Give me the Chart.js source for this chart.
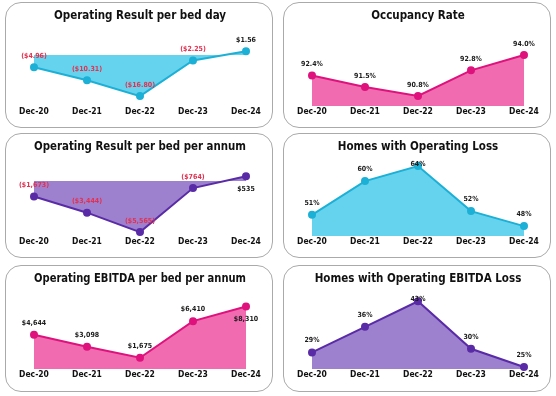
<!DOCTYPE html>
<html>
<head>
<meta charset="utf-8">
<script src="https://cdn.jsdelivr.net/npm/chart.js@4.4.1/dist/chart.umd.min.js"></script>
<style>
  html, body { margin: 0; padding: 0; background: #fff; }
  body { width: 556px; height: 396px; position: relative; overflow: hidden; }
  .panel {
    position: absolute;
    box-sizing: border-box;
    border: 1.5px solid #aaaaaa;
    border-radius: 16px;
    background: #fff;
    overflow: hidden;
  }
  .panel canvas { position: absolute; left: 0; top: 0; }
</style>
</head>
<body>
<div class="panel" id="p1" style="left:5px;top:2px;width:268px;height:126px"><canvas id="c1" width="265" height="123"></canvas></div>
<div class="panel" id="p2" style="left:283px;top:2px;width:268px;height:126px"><canvas id="c2" width="265" height="123"></canvas></div>
<div class="panel" id="p3" style="left:5px;top:133px;width:268px;height:125px"><canvas id="c3" width="265" height="122"></canvas></div>
<div class="panel" id="p4" style="left:283px;top:133px;width:268px;height:125px"><canvas id="c4" width="265" height="122"></canvas></div>
<div class="panel" id="p5" style="left:5px;top:265px;width:268px;height:127px"><canvas id="c5" width="265" height="124"></canvas></div>
<div class="panel" id="p6" style="left:283px;top:265px;width:268px;height:127px"><canvas id="c6" width="265" height="124"></canvas></div>

<script>
// data
const periods = ['Dec-20', 'Dec-21', 'Dec-22', 'Dec-23', 'Dec-24'];
const resultPerBedDay = [-4.96, -10.31, -16.80, -2.25, 1.56];
const occupancyRate = [92.4, 91.5, 90.8, 92.8, 94.0];
const resultPerBedAnnum = [-1673, -3444, -5565, -764, 535];
const homesOperatingLoss = [51, 60, 64, 52, 48];
const ebitdaPerBedAnnum = [4644, 3098, 1675, 6410, 8310];
const homesEbitdaLoss = [29, 36, 43, 30, 25];

const FONT = '"DejaVu Sans Condensed", "DejaVu Sans", sans-serif';
const CYAN = { line: '#1cb0d6', fill: '#66d3ee' };
const PINK = { line: '#df127d', fill: '#f06bb0' };
const PURPLE = { line: '#5a2ba6', fill: '#9d81cf' };

// number formats
const money2 = v => v < 0 ? '($' + Math.abs(v).toFixed(2) + ')' : '$' + v.toFixed(2);
const money0 = v => {
  const s = '$' + Math.abs(v).toLocaleString('en-US');
  return v < 0 ? '(' + s + ')' : s;
};
const pct1 = v => v.toFixed(1) + '%';
const pct0 = v => v.toFixed(0) + '%';

// draws the value next to every point
function valueLabels(format, offsets) {
  return {
    id: 'valueLabels',
    afterDatasetsDraw(chart) {
      const ctx = chart.ctx;
      const meta = chart.getDatasetMeta(0);
      const values = chart.data.datasets[0].data;
      ctx.save();
      ctx.font = 'bold 7px ' + FONT;
      ctx.textAlign = 'center';
      ctx.textBaseline = 'middle';
      meta.data.forEach((pt, i) => {
        ctx.fillStyle = values[i] < 0 ? '#e3304f' : '#1a1a1a';
        ctx.fillText(format(values[i]), pt.x, pt.y + offsets[i]);
      });
      ctx.restore();
    }
  };
}

function makeChart(id, title, values, colors, fillMode, yMin, yMax, format, offsets, padBottom) {
  new Chart(document.getElementById(id), {
    type: 'line',
    data: {
      labels: periods,
      datasets: [{
        data: values,
        borderColor: colors.line,
        backgroundColor: colors.fill,
        pointBackgroundColor: colors.line,
        pointBorderColor: colors.line,
        pointRadius: 3,
        borderWidth: 2,
        tension: 0,
        fill: fillMode,
        clip: false
      }]
    },
    options: {
      responsive: false,
      animation: false,
      layout: { padding: { left: 28, right: 25, top: 0, bottom: padBottom } },
      plugins: {
        legend: { display: false },
        tooltip: { enabled: false },
        title: {
          display: true,
          text: title,
          color: '#111',
          font: { family: FONT, size: 11.5, weight: 'bold', lineHeight: 1.4 },
          padding: { top: 5, bottom: 7 }
        }
      },
      scales: {
        x: {
          offset: false,
          grid: { display: false, drawTicks: false },
          border: { display: false },
          ticks: { color: '#111', padding: 0, font: { family: FONT, size: 8.5, weight: 'bold', lineHeight: 1.4 } }
        },
        y: { display: false, min: yMin, max: yMax }
      }
    },
    plugins: [valueLabels(format, offsets)]
  });
}

makeChart('c1', 'Operating Result per bed day', resultPerBedDay, CYAN, 'origin',
  -20.9, 9.8, money2, [-11, -11, -11, -11, -11], 8);
makeChart('c2', 'Occupancy Rate', occupancyRate, PINK, 'start',
  90.0, 95.87, pct1, [-11, -11, -11, -11, -11], 8);
makeChart('c3', 'Operating Result per bed per annum', resultPerBedAnnum, PURPLE, 'origin',
  -6000, 2073, money0, [-11, -11, -11, -11, 13], 8);
makeChart('c4', 'Homes with Operating Loss', homesOperatingLoss, CYAN, 'start',
  45.33, 65.07, pct0, [-12, -12, -2, -12, -12], 8);
makeChart('c5', 'Operating EBITDA per bed per annum', ebitdaPerBedAnnum, PINK, 'start',
  215, 9902, money0, [-12, -12, -12, -12, 13], 9);
makeChart('c6', 'Homes with Operating EBITDA Loss', homesEbitdaLoss, PURPLE, 'start',
  24.44, 44.97, pct0, [-12, -12, -2, -12, -12], 9);
</script>
</body>
</html>
